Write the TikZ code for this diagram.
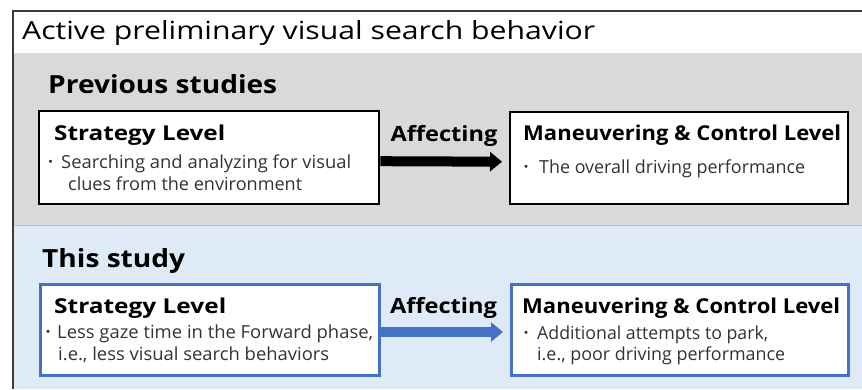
\documentclass[tikz,border=0pt]{standalone}
\usepackage{fontspec}
\usepackage{graphicx}
\setmainfont{Open Sans}
\newfontfamily\cjkfont{Noto Sans CJK JP}
\usetikzlibrary{arrows.meta}

\definecolor{panelgray}{HTML}{D9D9D9}
\definecolor{panelblue}{HTML}{DEEBF7}
\definecolor{sepgray}{HTML}{BFBFBF}
\definecolor{framecol}{HTML}{3A3A3A}
\definecolor{accentblue}{HTML}{4472C4}
\definecolor{bodytext}{HTML}{333333}

% set a line of text to a given width, keeping its height
\newcommand{\fitw}[2]{\resizebox{#1}{\height}{#2}}
% list bullet in a box of the given width
\newcommand{\bul}[1]{\makebox[#1][l]{\raisebox{1pt}{\cjkfont\fontsize{15}{15}\selectfont ・}}}

\tikzset{
  levelbox/.style={draw, fill=white, line width=2.4pt, inner sep=0pt, anchor=north west},
  bluebox/.style={levelbox, draw=accentblue, line width=3pt},
  titletext/.style={anchor=base west, inner sep=0pt, font=\fontsize{25}{30}\selectfont},
  sectiontext/.style={anchor=base west, inner sep=0pt, font=\fontsize{25}{30}\selectfont\bfseries},
  headtext/.style={anchor=base west, inner sep=0pt, font=\fontsize{20.5}{26}\selectfont\bfseries},
  bodyline/.style={anchor=base west, inner sep=0pt, text=bodytext, font=\fontsize{18}{22}\selectfont},
  affect/.style={anchor=base, inner sep=0pt, font=\fontsize{21}{26}\selectfont\bfseries},
  fatarrow/.style={line width=10pt, -{Triangle[length=12pt,width=19pt]}}
}

\begin{document}
\begin{tikzpicture}[x=1pt,y=-1pt]
  \useasboundingbox (0,0) rectangle (862,389);
  \fill[white] (0,0) rectangle (862,389);

  % panels
  \fill[panelgray] (13,53) rectangle (862,225);
  \fill[panelblue] (13,225) rectangle (862,389);
  \draw[sepgray, line width=1pt] (13,225) -- (862,225);
  \draw[framecol, line width=1.4pt] (862,11) -- (13,11) -- (13,389);

  % headings
  \node[titletext] (title) at (22,39) {\fitw{573pt}{Active preliminary visual search behavior}};
  \node[sectiontext] (prev) at (48,93) {\fitw{229pt}{Previous studies}};
  \node[sectiontext] (this) at (42,267) {\fitw{143pt}{This study}};

  % previous studies row
  \node[levelbox, minimum width=340pt, minimum height=93pt] (ps) at (38,110) {};
  \node[levelbox, minimum width=338pt, minimum height=92pt] (pm) at (509,111) {};
  \node[headtext] (psh) at (54,140) {\fitw{171pt}{Strategy Level}};
  \node[bodyline] (ps1) at (43,168) {\bul{18pt}\fitw{290pt}{Searching and analyzing for visual}};
  \node[bodyline] (ps2) at (68,190) {\fitw{234pt}{clues from the environment}};
  \node[headtext] (pmh) at (523,140) {\fitw{318pt}{Maneuvering \& Control Level}};
  \node[bodyline] (pm1) at (518.5,173) {\bul{20.5pt}\fitw{266pt}{The overall driving performance}};
  \draw[fatarrow, black] ([yshift=-3.5pt]ps.east) -- ([yshift=-3.5pt,xshift=-7pt]pm.west);
  \node[affect] (pa) at (444,141) {\fitw{107pt}{Affecting}};

  % this study row
  \node[bluebox, minimum width=339pt, minimum height=91pt] (ts) at (38.5,282.5) {};
  \node[bluebox, minimum width=337pt, minimum height=91pt] (tm) at (509.5,282.5) {};
  \node[headtext] (tsh) at (54,313) {\fitw{172pt}{Strategy Level}};
  \node[bodyline] (ts1) at (40.5,338) {\bul{16.5pt}\fitw{316pt}{Less gaze time in the Forward phase,}};
  \node[bodyline] (ts2) at (58,360) {\fitw{271pt}{i.e., less visual search behaviors}};
  \node[headtext] (tmh) at (522,313) {\fitw{318pt}{Maneuvering \& Control Level}};
  \node[bodyline] (tm1) at (518.5,339) {\bul{18.5pt}\fitw{231pt}{Additional attempts to park,}};
  \node[bodyline] (tm2) at (537,360) {\fitw{248pt}{i.e., poor driving performance}};
  \draw[fatarrow, accentblue] ([yshift=-2.5pt]ts.east) -- ([yshift=-2.5pt,xshift=-6.5pt]tm.west);
  \node[affect] (ta) at (443.5,313) {\fitw{107pt}{Affecting}};
\end{tikzpicture}
\end{document}
